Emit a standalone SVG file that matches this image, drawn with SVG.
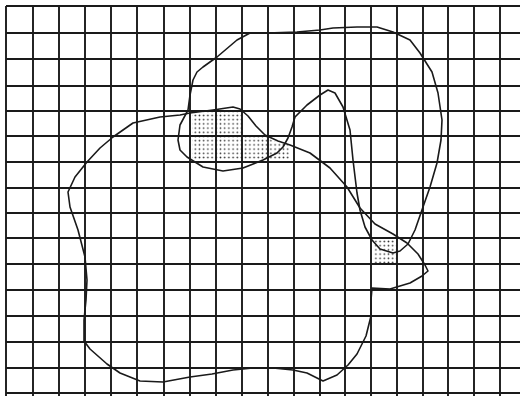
<svg xmlns="http://www.w3.org/2000/svg" width="520" height="396" viewBox="0 0 520 396">
<style>
.grid line{stroke:#1a1a1a;stroke-width:1.9}
.shape{fill:none;stroke:#1a1a1a;stroke-width:1.6;stroke-linejoin:round}
</style>
<defs>
<pattern id="dots" width="4.2" height="4.2" patternUnits="userSpaceOnUse">
<circle cx="2.1" cy="2.1" r="0.85" fill="#333"/>
</pattern>
</defs>
<rect width="520" height="396" fill="#ffffff"/>
<g id="shading">
<polygon fill="url(#dots)" points="192,114 212,111 236,109 242,113 242,136 266,136 273,141 290,146 290,159 192,159"/>
<polygon fill="url(#dots)" points="376,238 393,238 396,246 396,263 373,263 373,247"/>
</g>
<g class="grid" id="grid">
<line x1="6" y1="6" x2="6" y2="396"/>
<line x1="33" y1="6" x2="33" y2="396"/>
<line x1="59" y1="6" x2="59" y2="396"/>
<line x1="85" y1="6" x2="85" y2="396"/>
<line x1="111" y1="6" x2="111" y2="396"/>
<line x1="137" y1="6" x2="137" y2="396"/>
<line x1="164" y1="6" x2="164" y2="396"/>
<line x1="190" y1="6" x2="190" y2="396"/>
<line x1="216" y1="6" x2="216" y2="396"/>
<line x1="242" y1="6" x2="242" y2="396"/>
<line x1="268" y1="6" x2="268" y2="396"/>
<line x1="294" y1="6" x2="294" y2="396"/>
<line x1="320" y1="6" x2="320" y2="396"/>
<line x1="345" y1="6" x2="345" y2="396"/>
<line x1="371" y1="6" x2="371" y2="396"/>
<line x1="397" y1="6" x2="397" y2="396"/>
<line x1="423" y1="6" x2="423" y2="396"/>
<line x1="448" y1="6" x2="448" y2="396"/>
<line x1="474" y1="6" x2="474" y2="396"/>
<line x1="500" y1="6" x2="500" y2="396"/>
<line x1="6" y1="6" x2="520" y2="6"/>
<line x1="6" y1="33" x2="520" y2="33"/>
<line x1="6" y1="59" x2="520" y2="59"/>
<line x1="6" y1="86" x2="520" y2="86"/>
<line x1="6" y1="111" x2="520" y2="111"/>
<line x1="6" y1="136" x2="520" y2="136"/>
<line x1="6" y1="162" x2="520" y2="162"/>
<line x1="6" y1="188" x2="520" y2="188"/>
<line x1="6" y1="213" x2="520" y2="213"/>
<line x1="6" y1="238" x2="520" y2="238"/>
<line x1="6" y1="264" x2="520" y2="264"/>
<line x1="6" y1="290" x2="520" y2="290"/>
<line x1="6" y1="316" x2="520" y2="316"/>
<line x1="6" y1="342" x2="520" y2="342"/>
<line x1="6" y1="368" x2="520" y2="368"/>
<line x1="6" y1="393" x2="520" y2="393"/>
</g>
<g id="shapeA">
<polygon class="shape" points="113,137 133,123 160,117 180,115 190,113 213,110 233,107 240,109 248,116 256,126 265,135 278,141 290,145 310,153 330,168 347,187 360,208 375,224 393,234 407,243 418,254 425,265 428,271 422,276 410,283 390,289 372,288 371,300 371,316 366,336 357,354 348,365 337,375 323,381 307,373 293,370 273,368 253,368 233,370 212,374 190,377 163,382 140,381 120,373 107,364 90,349 84,341 84,320 86,300 87,280 85,257 78,230 70,207 68,192 75,177 87,162 100,148"/>
</g>
<g id="shapeB">
<polygon class="shape" points="193,80 197,72 203,67 217,57 237,40 250,33 267,33 297,32 320,30 333,28 357,27 377,27 393,32 410,40 420,53 432,72 438,93 442,120 441,140 437,163 430,187 423,207 415,230 408,244 400,251 393,253 380,249 372,240 365,227 360,210 357,193 353,160 350,130 343,107 335,93 328,90 320,95 307,105 295,117 292,127 288,138 283,147 277,153 263,160 243,168 223,171 203,167 187,157 180,150 178,140 180,125 188,110 190,95"/>
</g>
</svg>
